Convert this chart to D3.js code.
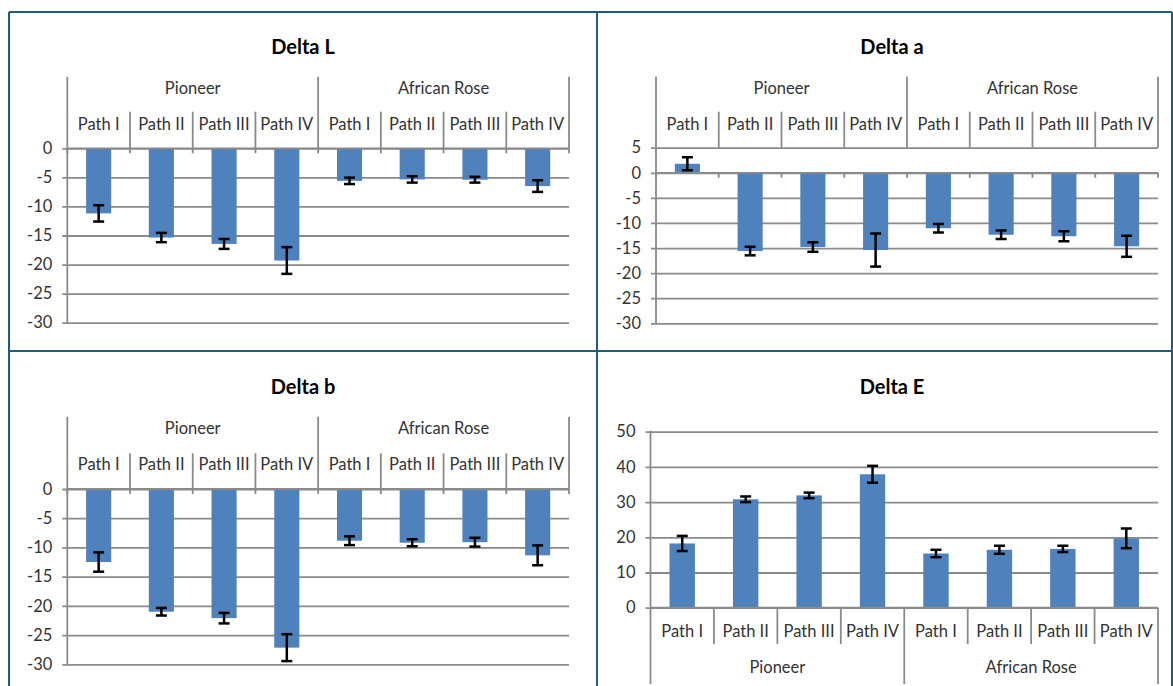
<!DOCTYPE html>
<html>
<head>
<meta charset="utf-8">
<script src="https://cdn.jsdelivr.net/npm/d3@7"></script>
<style>
  html, body { margin: 0; padding: 0; background: #fff; }
  svg { display: block; }
  text { font-family: Lato, "Noto Sans", sans-serif; }
</style>
</head>
<body>
<svg id="chart" width="1173" height="686"></svg>
<script>
// ---------------- DATA ----------------
const groups = ["Pioneer", "African Rose"];
const paths = ["Path I", "Path II", "Path III", "Path IV"];

const deltaL    = [-11.2, -15.35, -16.45, -19.3, -5.6, -5.35, -5.4, -6.5];
const deltaLErr = [1.4, 0.8, 0.85, 2.3, 0.55, 0.55, 0.5, 1.0];

const deltaA    = [1.8, -15.6, -14.8, -15.4, -11.05, -12.35, -12.65, -14.65];
const deltaAErr = [1.3, 0.85, 0.95, 3.3, 0.85, 0.85, 1.0, 2.1];

const deltaB    = [-12.5, -21.0, -22.1, -27.15, -8.85, -9.2, -9.1, -11.35];
const deltaBErr = [1.65, 0.65, 0.9, 2.3, 0.75, 0.6, 0.75, 1.7];

const deltaE    = [18.25, 30.8, 31.9, 37.9, 15.4, 16.45, 16.7, 19.7];
const deltaEErr = [2.15, 0.8, 0.8, 2.4, 1.05, 1.15, 0.9, 2.8];

const ticksL = [0, -5, -10, -15, -20, -25, -30];
const ticksA = [5, 0, -5, -10, -15, -20, -25, -30];
const ticksB = [0, -5, -10, -15, -20, -25, -30];
const ticksE = [0, 10, 20, 30, 40, 50];

const titles = ["Delta L", "Delta a", "Delta b", "Delta E"];

// ---------------- LAYOUT ----------------
const svg = d3.select("#chart");
svg.append("rect").attr("width", 1173).attr("height", 686).attr("fill", "#fff");

const GRID = "#8a8a8a";
const BAR = "#4f81bd";
const TXT = "#333333";
const FS = 16.5;

// categories (flattened) for band scale
const cats = [];
groups.forEach(g => paths.forEach(p => cats.push(g + "|" + p)));

const panels = [
  { title: titles[0], values: deltaL, errs: deltaLErr, ticks: ticksL, domain: [0, -30],
    x0: 67.3, x1: 569, yTopPx: 148.3, yBotPx: 322.7, labels: "top",
    groupTop: 76.7, pathTop: 111.7, groupLabelY: 88.5, pathLabelY: 123.8, titleX: 303, titleY: 47 },
  { title: titles[1], values: deltaA, errs: deltaAErr, ticks: ticksA, domain: [5, -30],
    x0: 656, x1: 1158, yTopPx: 147.7, yBotPx: 323.3, labels: "top",
    groupTop: 76.7, pathTop: 111.7, groupLabelY: 88.5, pathLabelY: 123.8, titleX: 892, titleY: 47 },
  { title: titles[2], values: deltaB, errs: deltaBErr, ticks: ticksB, domain: [0, -30],
    x0: 67.3, x1: 569, yTopPx: 489, yBotPx: 664.3, labels: "top",
    groupTop: 416.7, pathTop: 453.3, groupLabelY: 428.5, pathLabelY: 464.5, titleX: 303, titleY: 387.3 },
  { title: titles[3], values: deltaE, errs: deltaEErr, ticks: ticksE, domain: [50, 0],
    x0: 650.5, x1: 1158, yTopPx: 431.7, yBotPx: 607.7, labels: "bottom",
    groupBottom: 684, pathBottom: 644, groupLabelY: 667.5, pathLabelY: 631, titleX: 892, titleY: 387.3 }
];

panels.forEach(P => {
  const g = svg.append("g");
  const y = d3.scaleLinear().domain(P.domain).range([P.yTopPx, P.yBotPx]);
  const x = d3.scaleBand().domain(cats).range([P.x0, P.x1]).paddingInner(0.6).paddingOuter(0.3);
  const step = x.step();
  const edge = i => P.x0 + i * step;
  const zeroY = y(0);

  // gridlines with outside tick marks
  const yAxis = d3.axisLeft(y).tickValues(P.ticks).tickSize(-(P.x1 - P.x0)).tickPadding(16)
    .tickFormat(d => String(d));
  const ga = g.append("g").attr("transform", `translate(${P.x0},0)`).call(yAxis);
  ga.select(".domain").remove();
  ga.selectAll(".tick line").attr("stroke", GRID).attr("stroke-width", 1.8).attr("x1", -5);
  ga.selectAll(".tick text").attr("fill", TXT).attr("font-size", FS).attr("x", -15)
    .attr("font-family", "Lato, 'Noto Sans', sans-serif");

  // bars
  g.selectAll("rect.bar").data(P.values).join("rect").attr("class", "bar")
    .attr("x", (d, i) => x(cats[i]))
    .attr("width", x.bandwidth())
    .attr("y", d => Math.min(y(d), zeroY))
    .attr("height", d => Math.abs(y(d) - zeroY))
    .attr("fill", BAR);

  // category axis line at 0
  g.append("line").attr("x1", P.x0).attr("x2", P.x1).attr("y1", zeroY).attr("y2", zeroY)
    .attr("stroke", GRID).attr("stroke-width", 1.8);

  // value axis line
  if (P.labels === "top") {
    g.append("line").attr("x1", P.x0).attr("x2", P.x0).attr("y1", P.groupTop).attr("y2", P.yBotPx + 1)
      .attr("stroke", GRID).attr("stroke-width", 1.8);
  } else {
    g.append("line").attr("x1", P.x0).attr("x2", P.x0).attr("y1", P.yTopPx - 1).attr("y2", P.groupBottom)
      .attr("stroke", GRID).attr("stroke-width", 1.8);
  }

  // dividers & tick marks
  for (let i = 0; i <= cats.length; i++) {
    const xe = edge(i);
    const isGroup = (i % paths.length === 0);
    if (P.labels === "top") {
      const top = isGroup ? P.groupTop : P.pathTop;
      if (i > 0) {
        g.append("line").attr("x1", xe).attr("x2", xe).attr("y1", top).attr("y2", P.yTopPx)
          .attr("stroke", GRID).attr("stroke-width", 1.8);
      }
      // tick mark below category axis
      g.append("line").attr("x1", xe).attr("x2", xe).attr("y1", zeroY).attr("y2", zeroY + 5)
        .attr("stroke", GRID).attr("stroke-width", 1.8);
    } else {
      const bot = isGroup ? P.groupBottom : P.pathBottom;
      if (i > 0) {
        g.append("line").attr("x1", xe).attr("x2", xe).attr("y1", zeroY).attr("y2", bot)
          .attr("stroke", GRID).attr("stroke-width", 1.8);
      }
    }
  }

  // path labels
  g.selectAll("text.path").data(cats).join("text").attr("class", "path")
    .attr("x", (d, i) => edge(i) + step / 2)
    .attr("y", P.pathLabelY).attr("dy", "0.35em")
    .attr("text-anchor", "middle").attr("font-size", FS).attr("fill", TXT)
    .text(d => d.split("|")[1]);

  // group labels
  g.selectAll("text.grp").data(groups).join("text").attr("class", "grp")
    .attr("x", (d, i) => edge(i * paths.length) + step * paths.length / 2)
    .attr("y", P.groupLabelY).attr("dy", "0.35em")
    .attr("text-anchor", "middle").attr("font-size", FS).attr("fill", TXT)
    .text(d => d);

  // error bars
  const eb = g.selectAll("g.err").data(P.values).join("g").attr("class", "err");
  eb.each(function(d, i) {
    const cx = x(cats[i]) + x.bandwidth() / 2;
    const e = P.errs[i];
    const s = d3.select(this);
    const yHi = y(d + e), yLo = y(d - e);
    s.append("line").attr("x1", cx).attr("x2", cx).attr("y1", yHi).attr("y2", yLo)
      .attr("stroke", "#000").attr("stroke-width", 2.5);
    [yHi, yLo].forEach(yy => s.append("line").attr("x1", cx - 5.5).attr("x2", cx + 5.5)
      .attr("y1", yy).attr("y2", yy).attr("stroke", "#000").attr("stroke-width", 2.5));
  });

  // title
  g.append("text").attr("x", P.titleX).attr("y", P.titleY).attr("dy", "0.35em")
    .attr("text-anchor", "middle").attr("font-size", 20).attr("font-weight", "bold")
    .attr("fill", "#000").text(P.title);
});

// panel borders
const BORDER = "#1b5e7f";
const bl = [
  [9, 12, 1172, 12], [9, 12, 9, 686], [1172, 12, 1172, 686],
  [597, 12, 597, 686], [9, 351, 1172, 351]
];
bl.forEach(l => svg.append("line").attr("x1", l[0]).attr("y1", l[1]).attr("x2", l[2]).attr("y2", l[3])
  .attr("stroke", BORDER).attr("stroke-width", 2));
</script>
</body>
</html>
